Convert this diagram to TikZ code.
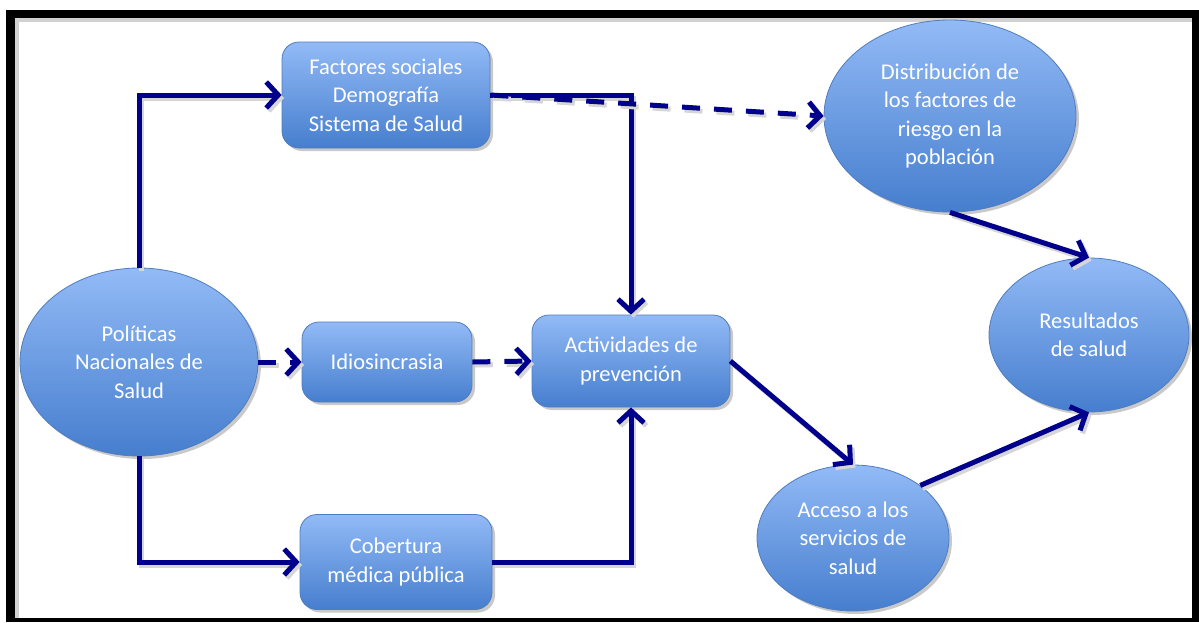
\documentclass[tikz,border=0pt]{standalone}
\usepackage{fontspec}
\setmainfont{Carlito}
\usetikzlibrary{shapes.geometric,arrows.meta,shadows}

\definecolor{navy}{RGB}{0,0,140}
\definecolor{boxtop}{RGB}{146,186,246}
\definecolor{boxbot}{RGB}{70,126,206}
\definecolor{boxline}{RGB}{80,125,190}

\tikzset{
  bubble/.style={draw=boxline, line width=0.8pt, top color=boxtop, bottom color=boxbot,
    text=white, align=center, inner sep=0pt,
    font=\fontsize{22.5}{28.5}\selectfont,
    drop shadow={shadow xshift=3pt, shadow yshift=-3pt, opacity=0.35, fill=black!60}},
  roundbox/.style={bubble, rectangle, rounded corners=17pt},
  oval/.style={bubble, ellipse},
  linkbase/.style={draw=navy, line width=5pt, line join=miter,
    -{Straight Barb[length=12pt, width=26pt, line width=5pt]}},
  link/.style={linkbase,
    preaction={draw=black!16, line width=5pt, transform canvas={shift={(2.5pt,-3pt)}}}},
  dashlink/.style={linkbase, dash pattern=on 18pt off 14pt,
    preaction={draw=black!16, line width=5pt, dash pattern=on 18pt off 14pt,
      transform canvas={shift={(2.5pt,-3pt)}}}},
}

\begin{document}
\begin{tikzpicture}[x=1pt, y=-1pt]
  \useasboundingbox (0,0) rectangle (1199,622);

  % outer frame
  \fill[black] (6,10) rectangle (1199,622);
  \fill[white] (15,18) rectangle (1192,618);
  \fill[black!18] (15,18) rectangle (1192,22);
  \fill[black!18] (15,18) rectangle (19,618);

  % nodes
  \node[roundbox, minimum width=208pt, minimum height=106pt] (fac) at (386,95)
    {Factores sociales\\Demografía\\Sistema de Salud};
  \node[oval, minimum width=238pt, minimum height=188pt] (pol) at (139,362)
    {Políticas\\Nacionales de\\Salud};
  \node[roundbox, minimum width=170pt, minimum height=80pt] (idio) at (387,362)
    {Idiosincrasia};
  \node[roundbox, minimum width=198pt, minimum height=92pt] (act) at (631,361)
    {Actividades de\\prevención};
  \node[roundbox, minimum width=192pt, minimum height=95pt] (cob) at (396,562)
    {Cobertura\\médica pública};
  \node[oval, minimum width=252pt, minimum height=192pt] (dist) at (950,116)
    {Distribución de\\los factores de\\riesgo en la\\población};
  \node[oval, minimum width=200pt, minimum height=154pt] (res) at (1089,335)
    {Resultados\\de salud};
  \node[oval, minimum width=192pt, minimum height=146pt] (acc) at (853,538)
    {Acceso a los\\servicios de\\salud};

  % connectors
  \draw[link] (pol.north) |- (fac.west);
  \draw[link] (pol.south) |- (cob.west);
  \draw[dashlink] (pol.east) -- (idio.west);
  \draw[dashlink] (idio.east) -- (act.west);
  \draw[link] (fac.east) -| (act.north);
  \draw[link] (cob.east) -| (act.south);
  \draw[dashlink] (fac.east) -- (dist.west);
  \draw[link] (act.east) -- (acc.north);
  \draw[link] (dist.south) -- (res.north);
  \draw[link] (acc.38) -- (res.south);
\end{tikzpicture}
\end{document}
